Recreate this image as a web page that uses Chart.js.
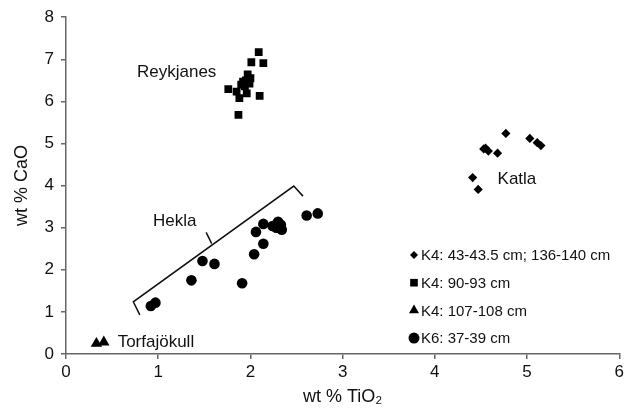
<!DOCTYPE html>
<html>
<head>
<meta charset="utf-8">
<title>CaO vs TiO2</title>
<script src="https://cdn.jsdelivr.net/npm/chart.js@4.4.0/dist/chart.umd.min.js"></script>
<style>
    html, body { margin: 0; padding: 0; background: #fff; }
    canvas { display: block; }
</style>
</head>
<body>
<canvas id="scatter" width="627" height="418"></canvas>
<script>
// K4: 43-43.5 cm; 136-140 cm (Katla)
var katlaX = [4.77, 5.03, 5.11, 5.15, 4.53, 4.55, 4.58, 4.68, 4.41, 4.47];
var katlaY = [5.24, 5.12, 5.02, 4.95, 4.87, 4.89, 4.82, 4.77, 4.19, 3.91];
// K4: 90-93 cm (Reykjanes)
var reykX = [2.09, 2.01, 2.14, 1.97, 2.00, 1.95, 1.99, 1.92, 1.94, 1.90, 1.76, 1.85, 1.96, 2.10, 1.88, 1.87];
var reykY = [7.17, 6.93, 6.91, 6.64, 6.55, 6.50, 6.42, 6.47, 6.36, 6.40, 6.29, 6.23, 6.19, 6.13, 6.08, 5.68];
// K4: 107-108 cm (Torfajökull)
var torfX = [0.33, 0.41];
var torfY = [0.25, 0.28];
// K6: 37-39 cm (Hekla)
var heklaX = [0.92, 0.97, 1.36, 1.48, 1.61, 1.91, 2.04, 2.14, 2.06, 2.14, 2.24, 2.30, 2.33, 2.34, 2.28, 2.61, 2.73];
var heklaY = [1.14, 1.22, 1.75, 2.21, 2.14, 1.68, 2.37, 2.62, 2.90, 3.09, 3.04, 3.14, 3.07, 2.95, 3.00, 3.29, 3.34];

var seriesLabels = ["K4: 43-43.5 cm; 136-140 cm", "K4: 90-93 cm", "K4: 107-108 cm", "K6: 37-39 cm"];

// text labels put on the plot (data units)
var noteText = ["Reykjanes", "Katla", "Hekla", "Torfajökull"];
var noteX = [1.20, 4.89, 1.18, 0.56];
var noteY = [6.70, 4.14, 3.15, 0.27];

// bracket around Hekla (data units)
var bracketX = [0.80, 0.73, 2.47, 2.57];
var bracketY = [0.93, 1.24, 3.99, 3.75];
var spikeX = [1.58, 1.52];
var spikeY = [2.62, 2.89];

var FONT = '"Liberation Sans", Arial, Helvetica, sans-serif';

function pts(xs, ys) {
    return xs.map(function (v, i) { return { x: v, y: ys[i] }; });
}

function drawMarker(ctx, style, x, y, r) {
    ctx.beginPath();
    if (style == "rectRot") {
        ctx.moveTo(x - r, y); ctx.lineTo(x, y - r); ctx.lineTo(x + r, y); ctx.lineTo(x, y + r);
    } else if (style == "rect") {
        var s = r * Math.SQRT1_2;
        ctx.rect(x - s, y - s, 2 * s, 2 * s);
    } else if (style == "triangle") {
        ctx.moveTo(x, y - r);
        ctx.lineTo(x + Math.sin(2 * Math.PI / 3) * r, y + r / 2);
        ctx.lineTo(x - Math.sin(2 * Math.PI / 3) * r, y + r / 2);
    } else {
        ctx.arc(x, y, r, 0, Math.PI * 2);
    }
    ctx.closePath();
    ctx.fill();
}

var overlay = {
    id: "overlay",
    afterDatasetsDraw: function (chart) {
        var ctx = chart.ctx;
        var xs = chart.scales.x, ys = chart.scales.y;
        var ca = chart.chartArea;
        ctx.save();

        // bracket
        ctx.strokeStyle = "#111";
        ctx.lineWidth = 1.5;
        ctx.beginPath();
        for (var i = 0; i < bracketX.length; i++) {
            var bx = xs.getPixelForValue(bracketX[i]), by = ys.getPixelForValue(bracketY[i]);
            if (i == 0) ctx.moveTo(bx, by); else ctx.lineTo(bx, by);
        }
        ctx.stroke();
        ctx.beginPath();
        ctx.moveTo(xs.getPixelForValue(spikeX[0]), ys.getPixelForValue(spikeY[0]));
        ctx.lineTo(xs.getPixelForValue(spikeX[1]), ys.getPixelForValue(spikeY[1]));
        ctx.stroke();

        // labels
        ctx.fillStyle = "#111";
        ctx.font = "17px " + FONT;
        ctx.textBaseline = "middle";
        for (var j = 0; j < noteText.length; j++) {
            ctx.textAlign = (j == 3) ? "left" : "center";
            ctx.fillText(noteText[j], xs.getPixelForValue(noteX[j]), ys.getPixelForValue(noteY[j]));
        }

        // legend inside the plot
        var sizes = [4, 5.4, 5.8, 5.5];
        var lx = ca.left + 348, ly = ca.bottom - 99;
        ctx.font = "15px " + FONT;
        ctx.textAlign = "left";
        chart.data.datasets.forEach(function (ds, k) {
            var yy = ly + k * 27.7;
            ctx.fillStyle = "#000";
            drawMarker(ctx, ds.pointStyle, lx, yy, sizes[k]);
            ctx.fillStyle = "#111";
            ctx.fillText(ds.label, lx + 7, yy + 1);
        });
        ctx.restore();
    }
};

var scatterChart = new Chart(document.getElementById("scatter"), {
    type: "scatter",
    data: {
        datasets: [
            {
                label: seriesLabels[0],
                data: pts(katlaX, katlaY),
                pointStyle: "rectRot",
                pointRadius: 4.6,
                backgroundColor: "#000",
                borderColor: "#000",
                borderWidth: 0
            },
            {
                label: seriesLabels[1],
                data: pts(reykX, reykY),
                pointStyle: "rect",
                pointRadius: 5.5,
                backgroundColor: "#000",
                borderColor: "#000",
                borderWidth: 0
            },
            {
                label: seriesLabels[2],
                data: pts(torfX, torfY),
                pointStyle: "triangle",
                pointRadius: 6.6,
                backgroundColor: "#000",
                borderColor: "#000",
                borderWidth: 0
            },
            {
                label: seriesLabels[3],
                data: pts(heklaX, heklaY),
                pointStyle: "circle",
                pointRadius: 5.3,
                backgroundColor: "#000",
                borderColor: "#000",
                borderWidth: 0
            }
        ]
    },
    options: {
        responsive: false,
        animation: false,
        devicePixelRatio: 1,
        events: [],
        layout: { padding: { top: 17, right: 5, left: 0, bottom: 0 } },
        plugins: {
            legend: { display: false },
            tooltip: { enabled: false }
        },
        scales: {
            x: {
                type: "linear",
                min: 0,
                max: 6,
                ticks: { stepSize: 1, color: "#111", font: { family: FONT, size: 17 }, padding: 3, maxRotation: 0 },
                grid: { drawOnChartArea: false, drawTicks: true, tickLength: 5, color: "#666", lineWidth: 1.5 },
                border: { display: true, color: "#666", width: 1.5 },
                title: { display: true, text: "wt % TiO₂", color: "#111", font: { family: FONT, size: 18 }, padding: { top: 0, bottom: 10 } },
                afterFit: function (s) { s.height = 64; }
            },
            y: {
                type: "linear",
                min: 0,
                max: 8,
                ticks: { stepSize: 1, color: "#111", font: { family: FONT, size: 17 }, padding: 7 },
                grid: { drawOnChartArea: false, drawTicks: true, tickLength: 5, color: "#666", lineWidth: 1.5 },
                border: { display: true, color: "#666", width: 1.5 },
                title: { display: true, text: "wt % CaO", color: "#111", font: { family: FONT, size: 18 }, padding: { top: 11, bottom: 0 } },
                afterFit: function (s) { s.width = 66; }
            }
        }
    },
    plugins: [overlay]
});
</script>
</body>
</html>
